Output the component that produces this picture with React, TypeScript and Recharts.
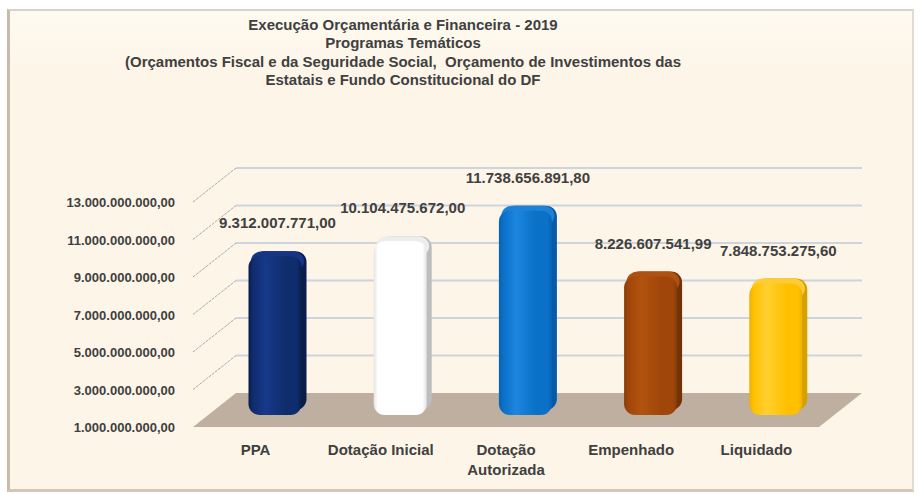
import React from 'react';
import { BarChart, Bar, XAxis, YAxis, CartesianGrid, LabelList, Text } from 'recharts';

const categories = ['PPA', 'Dotação Inicial', 'Dotação Autorizada', 'Empenhado', 'Liquidado'];
const values = [9312007771.0, 10104475672.0, 11738656891.8, 8226607541.99, 7848753275.6];
const yTicks = [1e9, 3e9, 5e9, 7e9, 9e9, 11e9, 13e9];
const titleLines = [
  'Execução Orçamentária e Financeira - 2019',
  'Programas Temáticos',
  '(Orçamentos Fiscal e da Seguridade Social,  Orçamento de Investimentos das',
  'Estatais e Fundo Constitucional do DF',
];
const barColors = [
  { edge: '#081C4A', base: '#0F2C6C', light: '#17398A', side: '#0A1D4A', top: '#163584' },
  { edge: '#E4E4E4', base: '#FFFFFF', light: '#FFFFFF', side: '#BDBDBD', top: '#EDEDED' },
  { edge: '#0862B2', base: '#0A70C8', light: '#1C86DE', side: '#075AA8', top: '#1D82D6' },
  { edge: '#873B07', base: '#A0460A', light: '#B2530E', side: '#723207', top: '#AE5213' },
  { edge: '#ECB000', base: '#FFC000', light: '#FFD02E', side: '#D6A000', top: '#FFCC33' },
];

const data = categories.map((name, i) => ({ name, value: values[i] }));

const FONT = '"Liberation Sans", Arial, sans-serif';
const TEXT = '#404040';
const DX = 21.5;
const DY = -17;
const BDX = 43;
const BDY = -34;
const DEPTH = 5;

function fmt(v: number): string {
  const [int, dec] = v.toFixed(2).split('.');
  return int.replace(/\B(?=(\d{3})+(?!\d))/g, '.') + ',' + dec;
}

const gridLine = (p: any) => {
  const { x1, y1, x2 } = p;
  const bottom = typeof p.y === 'number' && typeof p.height === 'number' ? p.y + p.height : null;
  const isFloor = bottom !== null ? Math.abs(y1 - bottom) < 1 : p.index === 0;
  if (isFloor) {
    return (
      <g key={p.key}>
        <polygon
          points={`${x1},${y1} ${x1 + BDX},${y1 + BDY} ${x2 + BDX},${y1 + BDY} ${x2},${y1}`}
          fill="#BEAFA0"
        />
      </g>
    );
  }
  return (
    <g key={p.key}>
      <line x1={x1} y1={y1} x2={x1 + BDX} y2={y1 + BDY} stroke="#A9A9A9" strokeWidth={1} strokeDasharray="3 1" />
      <line x1={x1 + BDX} y1={y1 + BDY} x2={x2 + BDX} y2={y1 + BDY} stroke="#CCD4DD" strokeWidth={2} />
    </g>
  );
};

const Bar3D = (p: any) => {
  const { x, y, width, height, index } = p;
  const c = barColors[index] || barColors[0];
  const L = x + DX;
  const T = y + DY - 3;
  const B = y + height + DY + 5;
  const d = DEPTH;
  const id = `bg${index}`;
  return (
    <g>
      <defs>
        <linearGradient id={id} x1="0" y1="0" x2="1" y2="0">
          <stop offset="0" stopColor={c.edge} />
          <stop offset="0.08" stopColor={c.base} />
          <stop offset="0.32" stopColor={c.light} />
          <stop offset="0.7" stopColor={c.base} />
          <stop offset="0.92" stopColor={c.base} />
          <stop offset="1" stopColor={c.edge} />
        </linearGradient>
      </defs>
      <rect x={L + d} y={T} width={width - d} height={B - d - T} rx={11} ry={11} fill={c.side} />
      <rect x={L + d / 2} y={T} width={width - d} height={4 * d} rx={11} ry={10} fill={c.top} />
      <rect x={L} y={T + d} width={width - d} height={B - T - d} rx={11} ry={11} fill={`url(#${id})`} />
    </g>
  );
};

const renderLabel = (p: any) => {
  const { x, y, width, value } = p;
  return (
    <text
      x={x + width / 2 + DX}
      y={y - 43}
      textAnchor="middle"
      fontSize={15}
      fontWeight="bold"
      fill={TEXT}
      fontFamily={FONT}
    >
      {fmt(value)}
    </text>
  );
};

const YTick = (p: any) => (
  <text x={p.x} y={p.y} dy={5} textAnchor="end" fontSize={13} fontWeight="bold" fill={TEXT} fontFamily={FONT}>
    {fmt(p.payload.value)}
  </text>
);

const XTick = (p: any) => (
  <Text
    x={p.x}
    y={p.y + 17}
    width={125}
    textAnchor="middle"
    verticalAnchor="start"
    lineHeight={20}
    fontSize={15}
    fontWeight="bold"
    fill={TEXT}
    fontFamily={FONT}
  >
    {p.payload.value}
  </Text>
);

export default function App() {
  return (
    <div style={{ position: 'absolute', left: 0, top: 0, width: 920, height: 494, background: '#FFFFFF', overflow: 'hidden' }}>
      <div
        style={{
          position: 'absolute',
          left: 7,
          top: 9,
          width: 902,
          height: 478,
          background: 'linear-gradient(#FEFAF0, #FDF5E8 60px)',
          borderTop: '2px solid #D6D3CE',
          borderLeft: '3px solid #C9BBAA',
          borderRight: '2px solid #E2DBD0',
          borderBottom: '3px solid #D2C8BA',
        }}
      />
      <div
        style={{
          position: 'absolute',
          left: 0,
          top: 16,
          width: 806,
          textAlign: 'center',
          fontFamily: FONT,
          fontWeight: 'bold',
          fontSize: 15,
          lineHeight: '18.4px',
          color: TEXT,
          whiteSpace: 'pre',
        }}
      >
        {titleLines.map((t, i) => (
          <div key={i}>{t}</div>
        ))}
      </div>
      <div style={{ position: 'absolute', left: 0, top: 0 }}>
        <BarChart width={920} height={494} data={data} margin={{ top: 202, right: 101, bottom: 27, left: 0 }} barSize={58}>
          <CartesianGrid vertical={false} horizontal={gridLine} />
          <XAxis
            dataKey="name"
            height={40}
            axisLine={false}
            tickLine={false}
            tickSize={0}
            tickMargin={0}
            interval={0}
            tick={XTick}
          />
          <YAxis
            width={193}
            domain={[1e9, 13e9]}
            ticks={yTicks}
            interval={0}
            axisLine={false}
            tickLine={false}
            tickSize={0}
            tickMargin={18}
            tick={YTick}
          />
          <Bar dataKey="value" shape={Bar3D} isAnimationActive={false}>
            <LabelList dataKey="value" content={renderLabel} />
          </Bar>
        </BarChart>
      </div>
    </div>
  );
}
